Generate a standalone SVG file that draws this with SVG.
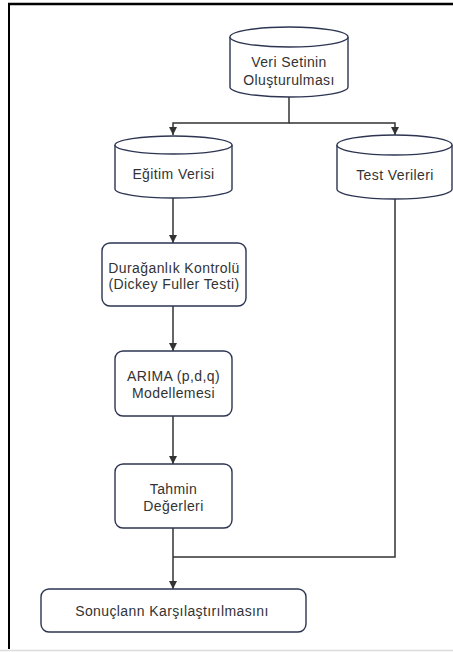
<svg xmlns="http://www.w3.org/2000/svg" width="453" height="652" viewBox="0 0 453 652">
<defs>
<marker id="arr" viewBox="0 0 8 8" refX="8" refY="4" markerWidth="8" markerHeight="8" markerUnits="userSpaceOnUse" orient="auto">
<path d="M0,0 L8,4 L0,8 Z" fill="#333"/>
</marker>
<style>
.shape{fill:#fff;stroke:#2d3552;stroke-width:1.4}
.lbl{font-family:"Liberation Sans",Arial,sans-serif;font-size:14px;fill:#333;text-anchor:middle;letter-spacing:0.4px}
.con{fill:none;stroke:#333;stroke-width:1.5}
</style>
</defs>
<rect x="0" y="0" width="453" height="652" fill="#fff"/>
<line x1="0" y1="650.5" x2="453" y2="650.5" stroke="#dcdcdc" stroke-width="1.5"/>
<line x1="8" y1="4" x2="453" y2="4" stroke="#000" stroke-width="2.5"/>
<line x1="9" y1="3" x2="9" y2="649" stroke="#000" stroke-width="2"/>

<g id="connectors">
<path class="con" d="M289,97 V123 H173 V135" marker-end="url(#arr)"/>
<path class="con" d="M289,123 H395 V135" marker-end="url(#arr)"/>
<path class="con" d="M173,198 V243" marker-end="url(#arr)"/>
<path class="con" d="M173,306 V351" marker-end="url(#arr)"/>
<path class="con" d="M173,416 V464" marker-end="url(#arr)"/>
<path class="con" d="M173,528 V589" marker-end="url(#arr)"/>
<path class="con" d="M395,199 V557 H173"/>
</g>

<g id="veri-seti">
<path class="shape" d="M230,37 A59,10 0 0 1 348,37 V87 A59,10 0 0 1 230,87 Z"/>
<path class="shape" fill="none" d="M230,37 A59,10 0 0 0 348,37"/>
<text class="lbl" x="289" y="67">Veri Setinin</text>
<text class="lbl" x="289" y="85">Oluşturulması</text>
</g>

<g id="egitim">
<path class="shape" d="M115,145 A58.5,9 0 0 1 232,145 V189 A58.5,9 0 0 1 115,189 Z"/>
<path class="shape" fill="none" d="M115,145 A58.5,9 0 0 0 232,145"/>
<text class="lbl" x="173.5" y="179">Eğitim Verisi</text>
</g>

<g id="test">
<path class="shape" d="M337,145 A57.5,10 0 0 1 452,145 V189 A57.5,10 0 0 1 337,189 Z"/>
<path class="shape" fill="none" d="M337,145 A57.5,10 0 0 0 452,145"/>
<text class="lbl" x="395" y="180">Test Verileri</text>
</g>

<g id="duraganlik">
<rect class="shape" x="102" y="243" width="144" height="63" rx="8"/>
<text class="lbl" x="174" y="273">Durağanlık Kontrolü</text>
<text class="lbl" x="174" y="289">(Dickey Fuller Testi)</text>
</g>

<g id="arima">
<rect class="shape" x="115" y="351" width="117" height="65" rx="8"/>
<text class="lbl" x="173.5" y="381">ARIMA (p,d,q)</text>
<text class="lbl" x="173.5" y="398">Modellemesi</text>
</g>

<g id="tahmin">
<rect class="shape" x="115" y="464" width="117" height="64" rx="8"/>
<text class="lbl" x="173.5" y="494">Tahmin</text>
<text class="lbl" x="173.5" y="511">Değerleri</text>
</g>

<g id="sonuc">
<rect class="shape" x="41" y="589" width="265" height="43" rx="8"/>
<text class="lbl" x="172" y="616">Sonuçlann Karşılaştırılmasını</text>
</g>
</svg>
